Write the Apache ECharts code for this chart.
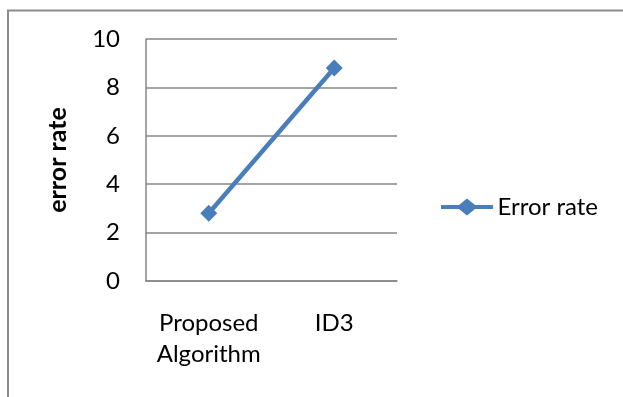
<!DOCTYPE html>
<html>
<head>
<meta charset="utf-8">
<script src="https://cdn.jsdelivr.net/npm/echarts@6/dist/echarts.min.js"></script>
<style>
html,body{margin:0;padding:0;background:#fff;}
#c{width:623px;height:397px;}
</style>
</head>
<body>
<div id="c"></div>
<script>
const categories = ['Proposed\nAlgorithm', 'ID3'];
const errorRate = [2.8, 8.8];
const seriesName = 'Error rate';
const yAxisName = 'error rate';

const FONT = 'Lato';
const chart = echarts.init(document.getElementById('c'));
chart.setOption({
  animation: false,
  backgroundColor: '#fff',
  textStyle: { fontFamily: FONT },
  graphic: [{
    type: 'rect',
    shape: { x: 8, y: 10.5, width: 640, height: 420 },
    style: { fill: 'none', stroke: '#8c8c8c', lineWidth: 2 },
    silent: true
  }],
  grid: { left: 146, right: 226, top: 39, bottom: 116 },
  legend: {
    data: [{
      name: seriesName,
      icon: 'path://M0,7 L19,7 L27.5,0 L36,7 L55,7 L55,11 L36,11 L27.5,18 L19,11 L0,11 Z'
    }],
    orient: 'vertical',
    left: 436,
    top: 190,
    itemWidth: 55,
    itemHeight: 17,
    itemGap: 4,
    textStyle: { fontFamily: FONT, fontSize: 24, color: '#000', padding: [0, 0, 0, -2] }
  },
  xAxis: {
    type: 'category',
    data: categories,
    boundaryGap: true,
    axisLine: { show: true, lineStyle: { color: '#868686', width: 1.5 } },
    axisTick: { show: false },
    axisLabel: { color: '#000', fontSize: 24, fontFamily: FONT, lineHeight: 31, margin: 27, interval: 0 },
    splitLine: { show: false }
  },
  yAxis: {
    type: 'value',
    min: 0, max: 10, interval: 2,
    name: yAxisName,
    nameLocation: 'middle',
    nameRotate: 90,
    nameGap: 76,
    nameTextStyle: { color: '#000', fontSize: 25, fontWeight: 'bold', fontFamily: FONT },
    axisLine: { show: true, lineStyle: { color: '#868686', width: 1.5 } },
    axisTick: { show: false },
    axisLabel: { color: '#000', fontSize: 24, fontFamily: FONT, margin: 26 },
    splitLine: { show: true, lineStyle: { color: '#868686', width: 1.5 } }
  },
  series: [{
    name: seriesName,
    type: 'line',
    data: errorRate,
    symbol: 'diamond',
    symbolSize: 17,
    showSymbol: true,
    lineStyle: { color: '#4a7ebb', width: 4.5 },
    itemStyle: { color: '#4a7ebb' }
  }]
});
</script>
</body>
</html>
